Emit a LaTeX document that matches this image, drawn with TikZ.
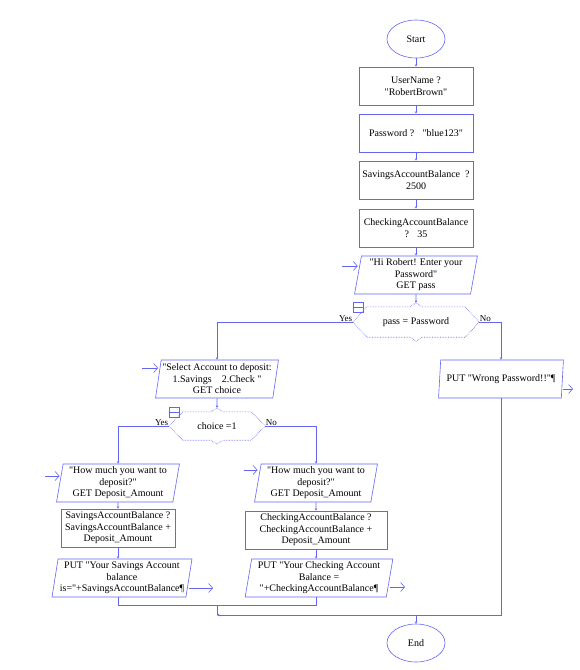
\documentclass[tikz,border=0pt]{standalone}
\usepackage{fontspec}
\newfontfamily\flowfont{Liberation Serif}
\usepackage{tikz}
\usetikzlibrary{calc}
\usetikzlibrary{shapes.geometric,arrows.meta}

\definecolor{flowblue}{RGB}{100,100,245}

\newcommand{\decshape}[1]{%
  \draw[flowline,densely dotted] (#1.west) -- ([xshift=14pt]#1.north west) -- ([xshift=-6pt]#1.north) -- ([yshift=4pt]#1.north) -- ([xshift=6pt]#1.north) -- ([xshift=-14pt]#1.north east) -- (#1.east) -- ([xshift=-14pt]#1.south east) -- ([xshift=6pt]#1.south) -- ([yshift=-4pt]#1.south) -- ([xshift=-6pt]#1.south) -- ([xshift=14pt]#1.south west) -- cycle;
  \draw[flowline] ([yshift=5pt]#1.north west) rectangle ([xshift=10pt,yshift=-5pt]#1.north west);
  \draw[flowline] (#1.north west) -- ([xshift=10pt]#1.north west);
}

\begin{document}
\begin{tikzpicture}[x=1pt,y=-1pt,
    flowline/.style={draw=flowblue,line width=0.6pt},
    conn/.style={flowline,-{Stealth[length=2.5pt,width=2.5pt]}},
    openarr/.style={flowline,-{Straight Barb[length=4pt,width=9pt]}},
    box/.style={font=\flowfont\fontsize{10}{11.5}\selectfont,align=center,inner sep=1pt},
    term/.style={box,shape=ellipse,draw=flowblue,line width=0.6pt,minimum width=58pt,minimum height=38pt},
    proc/.style={box,shape=rectangle,draw=flowblue,line width=0.6pt,minimum width=114pt,minimum height=38pt},
    io/.style={box,shape=trapezium,draw=flowblue,line width=0.6pt,trapezium left angle=80,trapezium right angle=100,trapezium stretches=true,minimum width=123pt,minimum height=38pt},
    dec/.style={font=\flowfont\fontsize{10}{11.5}\selectfont,inner sep=0pt},
    lbl/.style={font=\flowfont\fontsize{9}{10}\selectfont,inner sep=0.5pt}]
  \useasboundingbox (0,0) rectangle (580,670);

  \node[term] (start) at (416,39) {Start};
  \node[proc] (user) at (416,86) {UserName ?\\ "RobertBrown"};
  \node[proc] (pwd) at (416,133) {Password ?~~ "blue123"};
  \node[proc] (sav) at (416,180) {SavingsAccountBalance~ ?\\2500};
  \node[proc] (chk) at (416,228) {CheckingAccountBalance\\?~~ 35};
  \node[io] (hi) at (416,275) {"Hi Robert! Enter your\\Password"\\GET pass};
  \node[dec,minimum width=126pt,minimum height=30pt] (pass) at (416,322) {pass = Password};
  \decshape{pass}
  \node[io] (select) at (217,379) {"Select Account to deposit:\\1.Savings~~~ 2.Check "\\GET choice};
  \node[io,minimum width=125pt] (wrong) at (501,379) {PUT "Wrong Password!!"¶};
  \node[dec,minimum width=96pt,minimum height=28pt] (choice) at (217,426) {choice =1};
  \decshape{choice}
  \node[io] (how1) at (118,483) {"How much you want to\\deposit?"\\GET Deposit\_Amount};
  \node[io] (how2) at (316,483) {"How much you want to\\deposit?"\\GET Deposit\_Amount};
  \node[proc] (sav1) at (118,528) {SavingsAccountBalance ?\\SavingsAccountBalance +\\Deposit\_Amount};
  \node[proc,minimum width=142pt] (chk1) at (316,530) {CheckingAccountBalance ?\\CheckingAccountBalance +\\Deposit\_Amount};
  \node[io,minimum width=140pt] (put1) at (122,578) {PUT "Your Savings Account\\balance\\is="+SavingsAccountBalance¶};
  \node[io,minimum width=148pt] (put2) at (319,578) {PUT "Your Checking Account\\Balance =\\"+CheckingAccountBalance¶};
  \node[term] (stop) at (416,643) {End};

  \node[lbl,anchor=south east] (yes1) at (pass.west) {Yes};
  \node[lbl,anchor=south west] (no1) at (pass.east) {No};
  \node[lbl,anchor=south east] (yes2) at (choice.west) {Yes};
  \node[lbl,anchor=south west] (no2) at (choice.east) {No};

  \coordinate (hiin) at (342,266);
  \coordinate (selin) at (142,368);
  \coordinate (how1in) at (45,476);
  \coordinate (how2in) at (244,470);
  \coordinate (wrout) at (573,389);
  \coordinate (put1out) at (213,588);
  \coordinate (put2out) at (405,587);
  \coordinate (j1) at (217,605);
  \coordinate (j2) at (217,615);

  \draw[conn] (start) -- (user);
  \draw[conn] (user) -- (pwd);
  \draw[conn] (pwd) -- (sav);
  \draw[conn] (sav) -- (chk);
  \draw[conn] (chk) -- (hi);
  \draw[conn] (hi) -- ([yshift=4pt]pass.north);
  \draw[conn] (pass.west) -| (select.north);
  \draw[conn] (pass.east) -| (wrong.north);
  \draw[conn] (select) -- ([yshift=4pt]choice.north);
  \draw[conn] (choice.west) -| (how1.north);
  \draw[conn] (choice.east) -| (how2.north);
  \draw[conn] (how1) -- (sav1);
  \draw[conn] (how2) -- (chk1);
  \draw[conn] (sav1) -- (sav1 |- put1.north);
  \draw[conn] (chk1) -- (chk1 |- put2.north);
  \draw[flowline] (sav1 |- put1.south) |- (j1);
  \draw[flowline] (chk1 |- put2.south) |- (j1);
  \draw[flowline] (j1) -- (j2);
  \draw[conn] (wrong) |- (j2);
  \draw[conn] (stop |- j2) -- (stop);

  \draw[openarr] (hiin) -- (hiin -| hi.west);
  \draw[openarr] (selin) -- (selin -| select.west);
  \draw[openarr] (how1in) -- (how1in -| how1.west);
  \draw[openarr] (how2in) -- (how2in -| how2.west);
  \draw[openarr] (wrong.east |- wrout) -- (wrout);
  \draw[openarr] (put1.east |- put1out) -- (put1out);
  \draw[openarr] (put2.east |- put2out) -- (put2out);
\end{tikzpicture}
\end{document}
